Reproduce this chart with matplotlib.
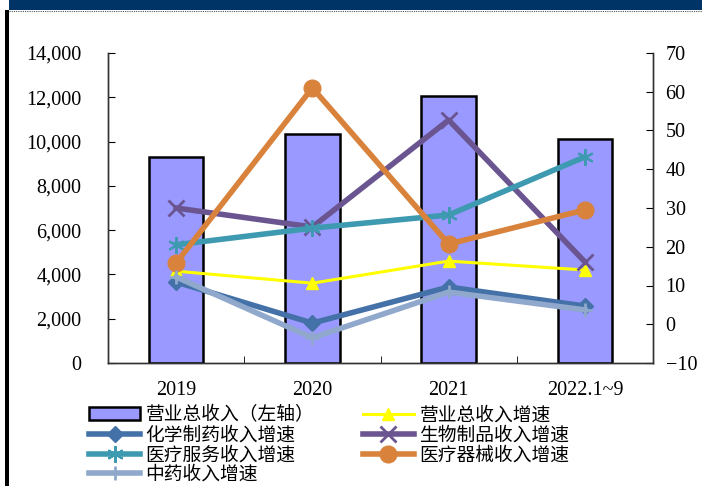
import numpy as np
import matplotlib.pyplot as plt
from matplotlib.patches import Rectangle
from matplotlib.lines import Line2D

plt.rcParams['font.family'] = ['Liberation Serif', 'Noto Sans CJK SC']

years = ['2019', '2020', '2021', '2022.1~9']
revenue = [9300, 10340, 12060, 10120]
rev_growth = [13.7, 10.6, 16.3, 14.0]
chem_growth = [10.9, 0.3, 9.6, 4.7]
bio_growth = [30.0, 25.1, 52.7, 16.1]
service_growth = [20.5, 24.8, 28.2, 43.2]
device_growth = [15.8, 61.0, 20.7, 29.5]
tcm_growth = [12.2, -3.5, 8.3, 3.7]

fig = plt.figure(figsize=(7.02, 4.86), dpi=100)

# top banner and left border
fig.patches.append(Rectangle((9 / 702, 1 - 10 / 486), 1, 10 / 486, transform=fig.transFigure,
                             facecolor='#003366', edgecolor='none'))
fig.lines.append(Line2D([9 / 702, 1], [1 - 11 / 486] * 2, transform=fig.transFigure,
                        color='#555555', lw=0.8, ls=(0, (1, 1))))
fig.patches.append(Rectangle((5 / 702, 0), 4 / 702, 1 - 10 / 486, transform=fig.transFigure,
                             facecolor='black', edgecolor='none'))

ax = fig.add_axes([108 / 702, 123 / 486, 545 / 702, 310 / 486])
ax2 = ax.twinx()

x = np.arange(len(years))
bars = ax.bar(x, revenue, width=0.4, color='#9999FF', edgecolor='black', linewidth=1.8,
              label='营业总收入（左轴）')
ax.set_xlim(-0.5, 3.5)
ax.set_ylim(0, 14000)
ax.set_yticks(range(0, 14001, 2000))
ax.set_yticklabels([f'{v:,}' for v in range(0, 14001, 2000)])
ax.set_xticks(x)
ax.set_xticklabels(years)
ax.set_xticks([0.5, 1.5, 2.5], minor=True)
ax.tick_params(axis='x', which='major', length=0, pad=13, labelsize=14.5)
ax.tick_params(axis='x', which='minor', direction='in', length=5)
ax.tick_params(axis='y', direction='in', length=5, labelsize=14.5, pad=19)

ax2.set_ylim(-10, 70)
ax2.set_yticks(range(-10, 71, 10))
ax2.tick_params(axis='y', direction='in', length=5, labelsize=14.5, pad=9)

for a in (ax, ax2):
    a.spines['top'].set_visible(False)
    for s in ('left', 'right', 'bottom'):
        a.spines[s].set_color('#333333')
        a.spines[s].set_linewidth(1.0)

l1, = ax2.plot(x, rev_growth, color='#FFFF00', lw=2.2, marker='^', ms=9, label='营业总收入增速')
l2, = ax2.plot(x, chem_growth, color='#4472A8', lw=4, marker='D', ms=8, label='化学制药收入增速')
l3, = ax2.plot(x, bio_growth, color='#6A5590', lw=4, marker='x', ms=11, mew=2, label='生物制品收入增速')
l4, = ax2.plot(x, service_growth, color='#3E9AB0', lw=4, marker=(6, 2, 0), ms=12, mew=1.5,
               label='医疗服务收入增速')
l5, = ax2.plot(x, device_growth, color='#D9823B', lw=4, marker='o', ms=12, label='医疗器械收入增速')
l6, = ax2.plot(x, tcm_growth, color='#8FA8CC', lw=4, marker='+', ms=10, mew=2, label='中药收入增速')

# legend fills column by column, so order the handles to read row by row
handles = [bars, l2, l4, l6, l1, l3, l5]
fig.legend(handles=handles, labels=[h.get_label() for h in handles], ncol=2,
           loc='upper left', bbox_to_anchor=(80 / 702, 1 - 395 / 486), frameon=False,
           prop={'family': ['Noto Sans CJK SC'], 'size': 13.5}, labelspacing=-0.06,
           handlelength=2.7, handletextpad=0.3, columnspacing=2.6, borderpad=0)

fig.savefig('out.png', dpi=100)
